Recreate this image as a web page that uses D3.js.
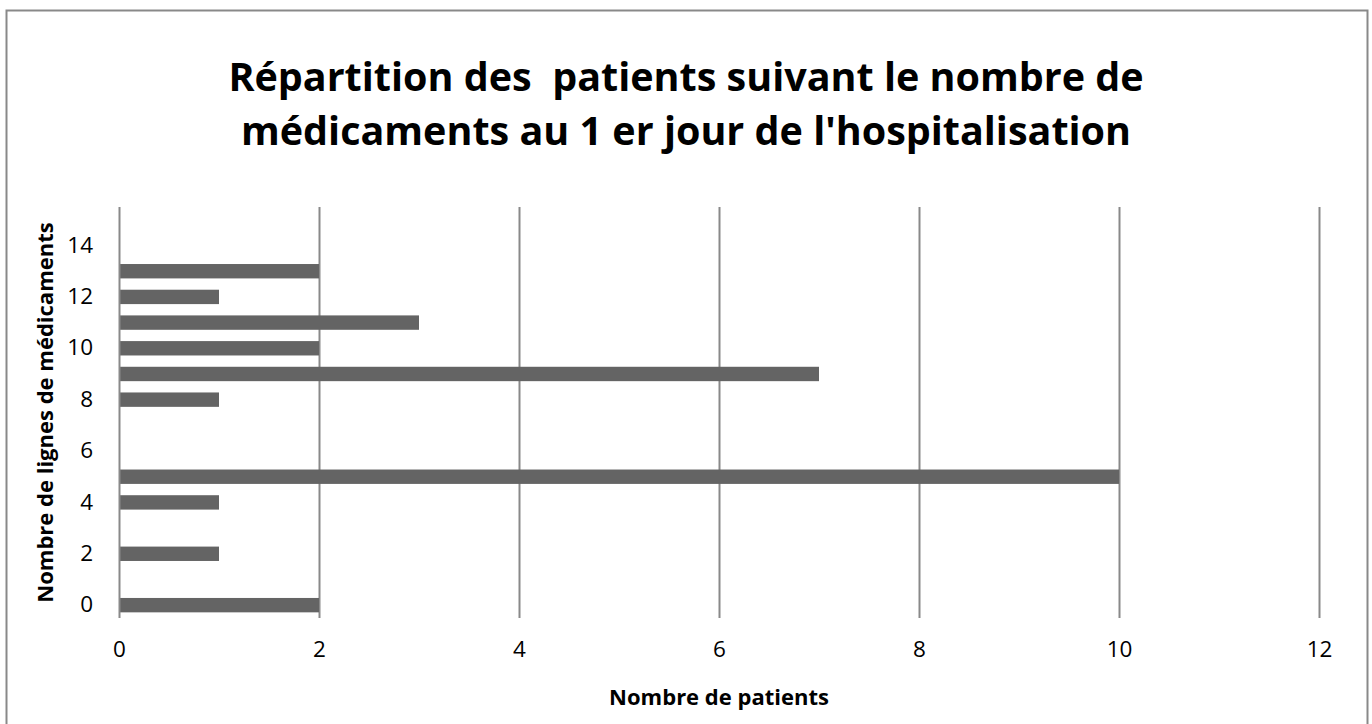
<!DOCTYPE html>
<html>
<head>
<meta charset="utf-8">
<script src="https://cdn.jsdelivr.net/npm/d3@7"></script>
<style>
  body { margin: 0; background: #fff; }
  text { font-family: "Open Sans", sans-serif; fill: #000; }
</style>
</head>
<body>
<div class="chart"></div>
<script>
// nombre de lignes de médicaments (categories) and number of patients
const categories = d3.range(0, 16);
const patients = [2, 0, 1, 0, 1, 10, 0, 0, 1, 7, 2, 3, 1, 2, 0, 0];
const yTickLabels = [0, 2, 4, 6, 8, 10, 12, 14];
const xTicks = [0, 2, 4, 6, 8, 10, 12];
const titleLines = [
  "Répartition des  patients suivant le nombre de",
  "médicaments au 1 er jour de l'hospitalisation",
];

const W = 1372, H = 724;
const margin = { top: 207, right: 53, bottom: 106, left: 119 };
const width = W - margin.left - margin.right,
  height = H - margin.top - margin.bottom;

const svg = d3
  .select(".chart")
  .append("svg")
  .attr("width", W)
  .attr("height", H);

// chart area border
svg
  .append("rect")
  .attr("x", 6.5)
  .attr("y", 10.5)
  .attr("width", 1361)
  .attr("height", 730)
  .attr("fill", "none")
  .attr("stroke", "#898989")
  .attr("stroke-width", 2);

svg
  .append("g")
  .selectAll("text")
  .data(titleLines)
  .enter()
  .append("text")
  .attr("x", W / 2)
  .attr("y", (d, i) => 91 + i * 54)
  .attr("text-anchor", "middle")
  .attr("font-weight", "bold")
  .attr("font-size", 39.5)
  .style("white-space", "pre")
  .text((d) => d);

const g = svg
  .append("g")
  .attr("transform", `translate(${margin.left},${margin.top})`);

const xScale = d3.scaleLinear().domain([0, 12]).range([0, width]);
const yScale = d3
  .scaleBand()
  .domain(categories)
  .range([height, 0])
  .paddingInner(0.44)
  .paddingOuter(0.22);

// vertical gridlines
g.append("g")
  .selectAll("line")
  .data(xTicks.slice(1))
  .enter()
  .append("line")
  .attr("x1", (d) => Math.round(xScale(d)) + 0.5)
  .attr("x2", (d) => Math.round(xScale(d)) + 0.5)
  .attr("y1", 0)
  .attr("y2", height)
  .attr("stroke", "#898989")
  .attr("stroke-width", 2);

// bars
g.append("g")
  .selectAll("rect")
  .data(categories.filter((c) => patients[c] > 0))
  .enter()
  .append("rect")
  .attr("x", xScale(0))
  .attr("y", (c) => yScale(c))
  .attr("width", (c) => xScale(patients[c]) - xScale(0))
  .attr("height", yScale.bandwidth())
  .attr("fill", "#646464");

// y axis line
g.append("line")
  .attr("x1", 0.5)
  .attr("x2", 0.5)
  .attr("y1", 0)
  .attr("y2", height)
  .attr("stroke", "#898989")
  .attr("stroke-width", 2);

const yAxis = (sel) =>
  sel
    .call(d3.axisLeft(yScale).tickValues(yTickLabels).tickSize(0).tickPadding(26))
    .call((s) => s.select(".domain").remove())
    .call((s) =>
      s
        .selectAll("text")
        .attr("font-size", 22.5)
        .attr("font-family", "Open Sans, sans-serif")
        .attr("fill", "#000")
    );
g.append("g").call(yAxis);

const xAxis = (sel) =>
  sel
    .call(d3.axisBottom(xScale).tickValues(xTicks).tickSize(0).tickPadding(23))
    .call((s) => s.select(".domain").remove())
    .call((s) =>
      s
        .selectAll("text")
        .attr("font-size", 22.5)
        .attr("font-family", "Open Sans, sans-serif")
        .attr("fill", "#000")
    );
g.append("g").attr("transform", `translate(0,${height})`).call(xAxis);

// axis titles
svg
  .append("text")
  .attr("x", margin.left + width / 2)
  .attr("y", 705)
  .attr("text-anchor", "middle")
  .attr("font-weight", "bold")
  .attr("font-size", 22)
  .text("Nombre de patients");

svg
  .append("text")
  .attr("transform", `translate(53,${margin.top + height / 2}) rotate(-90)`)
  .attr("text-anchor", "middle")
  .attr("font-weight", "bold")
  .attr("font-size", 22)
  .text("Nombre de lignes de médicaments");
</script>
</body>
</html>
